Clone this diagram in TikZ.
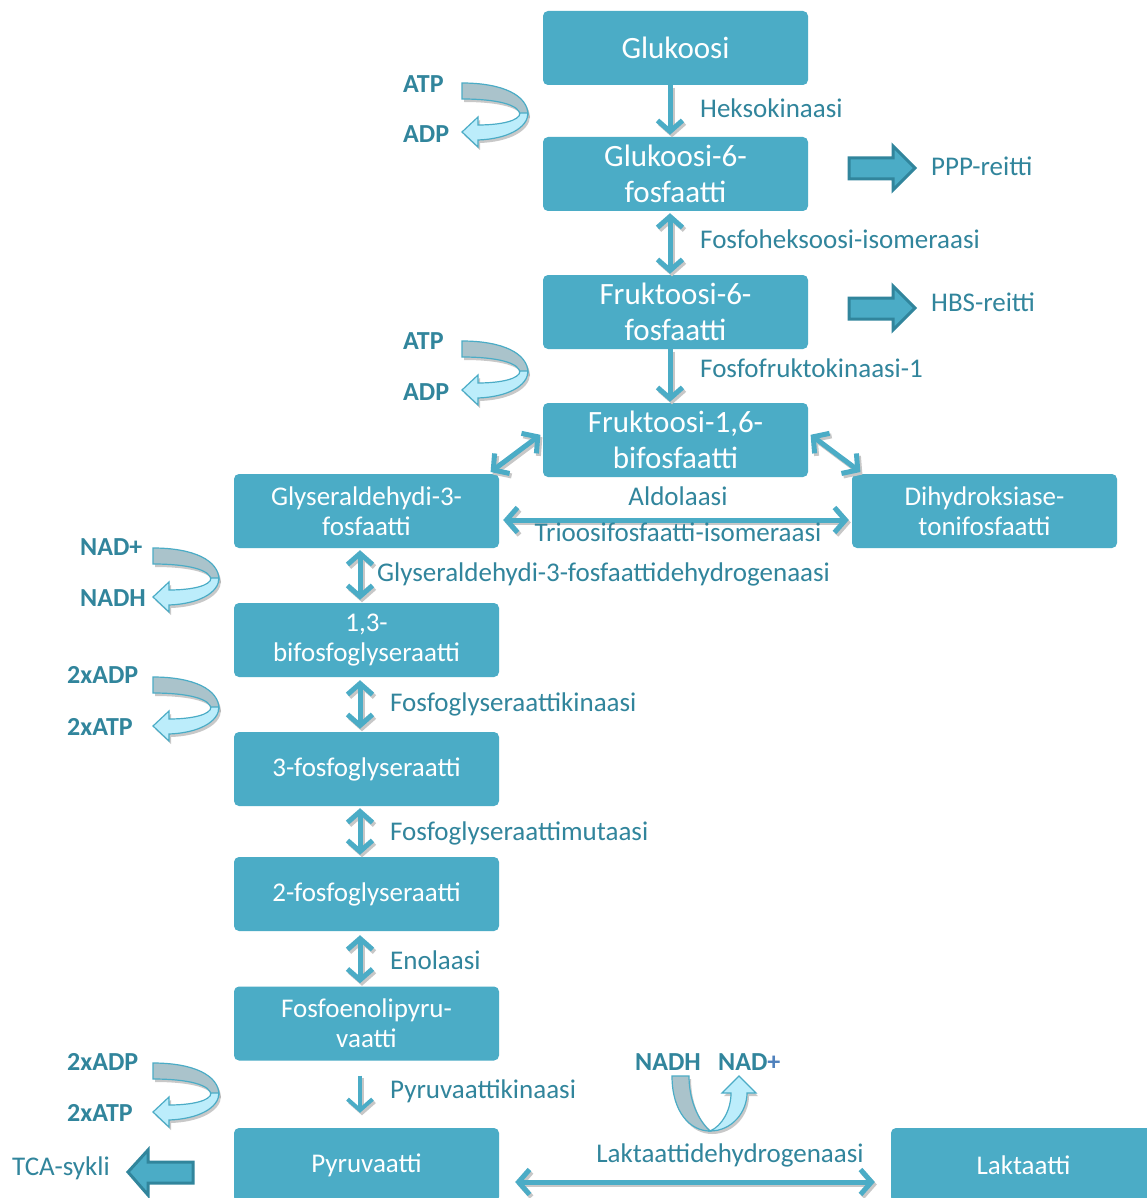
\documentclass[tikz,border=0pt]{standalone}
\usepackage{fontspec}
\setmainfont{Carlito}
\usetikzlibrary{arrows.meta}
\definecolor{boxc}{HTML}{4BACC6}
\definecolor{darkc}{HTML}{31859C}
\definecolor{plusc}{HTML}{4F81BD}
\definecolor{grayband}{HTML}{AAC3CB}
\definecolor{blueband}{HTML}{BCEDFB}
\tikzset{
  box/.style={fill=boxc, rounded corners=5pt, minimum width=265pt, minimum height=74pt,
    text=white, align=center, inner sep=0pt},
  bigbox/.style={box, font=\fontsize{31}{36}\selectfont},
  smallbox/.style={box, font=\fontsize{27}{30}\selectfont},
  lab/.style={text=darkc, font=\fontsize{27}{30}\selectfont, inner sep=0pt, text height=0.68em, text depth=0.14em, yshift=-6pt},
  blab/.style={text=darkc, font=\fontsize{26}{30}\selectfont\bfseries, inner sep=0pt, text height=0.68em, text depth=0.14em, anchor=west, yshift=-6pt},
  tipb/.tip={Straight Barb[length=11pt,width=25pt]},
  conn/.style={draw=boxc, line width=5pt},
  one/.style={conn, -tipb},
  two/.style={conn, tipb-tipb},
  blockarr/.style={fill=boxc, draw=darkc, line width=3pt, line join=miter},
  curv/.pic={
    \fill[black!30, opacity=0.7, shift={(2,3)}] (0,0) .. controls (40,0) and (66,12) .. (66,32) -- (58,32) .. controls (58,22) and (36,16) .. (0,16) -- cycle;
    \fill[black!30, opacity=0.7, shift={(2,3)}] (66,30) .. controls (66,45) and (45,56) .. (16,57) -- (16,64) -- (0,49) -- (16,34) -- (16,42) .. controls (38,42) and (58,38) .. (58,30) -- cycle;
    \filldraw[fill=grayband, draw=boxc, line width=1.2pt] (0,0) .. controls (40,0) and (66,12) .. (66,32) -- (58,32) .. controls (58,22) and (36,16) .. (0,16) -- cycle;
    \filldraw[fill=blueband, draw=boxc, line width=1.2pt, line join=miter] (66,30) .. controls (66,45) and (45,56) .. (16,57) -- (16,64) -- (0,49) -- (16,34) -- (16,42) .. controls (38,42) and (58,38) .. (58,30) -- cycle;
  }
}
\begin{document}
\begin{tikzpicture}[x=1pt,y=-1pt]
\useasboundingbox (0,0) rectangle (1146,1198);
\fill[white] (0,0) rectangle (1146,1198);

% boxes
\node[bigbox] (glc) at (675.5,48) {Glukoosi};
\node[bigbox] (g6p) at (675.5,174) {Glukoosi-6-\\fosfaatti};
\node[bigbox] (f6p) at (675.5,312) {Fruktoosi-6-\\fosfaatti};
\node[bigbox] (f16) at (675.5,440) {Fruktoosi-1,6-\\bifosfaatti};
\node[smallbox] (g3p) at (366.5,511) {Glyseraldehydi-3-\\fosfaatti};
\node[smallbox] (dhap) at (984.5,511) {Dihydroksiase-\\tonifosfaatti};
\node[smallbox] (bpg) at (366.5,640) {1,3-\\bifosfoglyseraatti};
\node[smallbox] (pg3) at (366.5,769) {3-fosfoglyseraatti};
\node[smallbox] (pg2) at (366.5,894) {2-fosfoglyseraatti};
\node[smallbox] (pep) at (366.5,1023.5) {Fosfoenolipyru-\\vaatti};
\node[smallbox] (pyr) at (366.5,1165) {Pyruvaatti};
\node[smallbox] (lakt) at (1023.5,1165) {Laktaatti};

% shadows of connectors
\begin{scope}[transform canvas={xshift=2pt,yshift=-2.5pt}]
\tikzset{conn/.style={draw=black!22, line width=5pt}}
\draw[one, shorten >=2pt] ([xshift=-5.5pt]glc.south) -- ([xshift=-5.5pt]g6p.north);
\draw[two, shorten >=1pt, shorten <=2pt] ([xshift=-5.5pt]g6p.south) -- ([xshift=-5.5pt]f6p.north);
\draw[one, shorten >=1pt] ([xshift=-5.5pt]f6p.south) -- ([xshift=-5.5pt]f16.north);
\draw[two, shorten >=3pt, shorten <=3pt] ([yshift=7pt]f16.west) -- ([xshift=-11pt]g3p.north east);
\draw[two, shorten >=3pt, shorten <=3pt] ([yshift=7pt]f16.east) -- ([xshift=11pt]dhap.north west);
\draw[two, shorten >=3pt, shorten <=4pt] ([yshift=-9pt]g3p.east) -- ([yshift=-9pt]dhap.west);
\draw[two, shorten >=3pt, shorten <=2pt] ([xshift=-6.5pt]g3p.south) -- ([xshift=-6.5pt]bpg.north);
\draw[two, shorten >=3pt, shorten <=3pt] ([xshift=-6.5pt]bpg.south) -- ([xshift=-6.5pt]pg3.north);
\draw[two, shorten >=2pt, shorten <=2pt] ([xshift=-6.5pt]pg3.south) -- ([xshift=-6.5pt]pg2.north);
\draw[two, shorten >=3pt, shorten <=4pt] ([xshift=-6.5pt]pg2.south) -- ([xshift=-6.5pt]pep.north);
\draw[one, line width=4pt, shorten >=15pt, shorten <=15pt] ([xshift=-6.5pt]pep.south) -- ([xshift=-6.5pt]pyr.north);
\draw[two, shorten >=16pt, shorten <=16pt] ([yshift=-17pt]pyr.east) -- ([yshift=-17pt]lakt.west);
\end{scope}

% connectors
\draw[one, shorten >=2pt] ([xshift=-5.5pt]glc.south) -- ([xshift=-5.5pt]g6p.north);
\draw[two, shorten >=1pt, shorten <=2pt] ([xshift=-5.5pt]g6p.south) -- ([xshift=-5.5pt]f6p.north);
\draw[one, shorten >=1pt] ([xshift=-5.5pt]f6p.south) -- ([xshift=-5.5pt]f16.north);
\draw[two, shorten >=3pt, shorten <=3pt] ([yshift=7pt]f16.west) -- ([xshift=-11pt]g3p.north east);
\draw[two, shorten >=3pt, shorten <=3pt] ([yshift=7pt]f16.east) -- ([xshift=11pt]dhap.north west);
\draw[two, shorten >=3pt, shorten <=4pt] ([yshift=-9pt]g3p.east) -- ([yshift=-9pt]dhap.west);
\draw[two, shorten >=3pt, shorten <=2pt] ([xshift=-6.5pt]g3p.south) -- ([xshift=-6.5pt]bpg.north);
\draw[two, shorten >=3pt, shorten <=3pt] ([xshift=-6.5pt]bpg.south) -- ([xshift=-6.5pt]pg3.north);
\draw[two, shorten >=2pt, shorten <=2pt] ([xshift=-6.5pt]pg3.south) -- ([xshift=-6.5pt]pg2.north);
\draw[two, shorten >=3pt, shorten <=4pt] ([xshift=-6.5pt]pg2.south) -- ([xshift=-6.5pt]pep.north);
\draw[one, line width=4pt, shorten >=15pt, shorten <=15pt] ([xshift=-6.5pt]pep.south) -- ([xshift=-6.5pt]pyr.north);
\draw[two, shorten >=16pt, shorten <=16pt] ([yshift=-17pt]pyr.east) -- ([yshift=-17pt]lakt.west);

% enzyme labels
\node[lab, anchor=west] (hk) at (700,109) {Heksokinaasi};
\node[lab, anchor=west] (pgi) at (700,240) {Fosfoheksoosi-isomeraasi};
\node[lab, anchor=west] (pfk) at (700,369) {Fosfofruktokinaasi-1};
\node[lab] (ald) at (678,497) {Aldolaasi};
\node[lab] (tpi) at (678,533) {Trioosifosfaatti-isomeraasi};
\node[lab, anchor=west] (gapdh) at (377,573) {Glyseraldehydi-3-fosfaattidehydrogenaasi};
\node[lab, anchor=west] (pgk) at (390,703) {Fosfoglyseraattikinaasi};
\node[lab, anchor=west] (pgm) at (390,832) {Fosfoglyseraattimutaasi};
\node[lab, anchor=west] (eno) at (390,961) {Enolaasi};
\node[lab, anchor=west] (pk) at (390,1090) {Pyruvaattikinaasi};
\node[lab] (ldh) at (730,1154) {Laktaattidehydrogenaasi};

% side pathways
\node[lab, anchor=west] (ppp) at (931,167) {PPP-reitti};
\node[lab, anchor=west] (hbs) at (931,303) {HBS-reitti};
\node[lab, anchor=west] (tca) at (12,1167) {TCA-sykli};
\draw[blockarr] (849,158) -- (893,158) -- (893,146) -- (915,168) -- (893,190) -- (893,179) -- (849,179) -- cycle;
\draw[blockarr] (849,298) -- (893,298) -- (893,286) -- (915,308) -- (893,330) -- (893,319) -- (849,319) -- cycle;
\draw[blockarr] (193,1162) -- (148,1162) -- (148,1150) -- (128,1172) -- (148,1195) -- (148,1183) -- (193,1183) -- cycle;

% cofactors
\node[blab] (atp1) at (403,84) {ATP};
\node[blab] (adp1) at (403,134) {ADP};
\node[blab] (atp2) at (403,341) {ATP};
\node[blab] (adp2) at (403,392) {ADP};
\node[blab] (nad1) at (80,547) {NAD+};
\node[blab] (nadh1) at (80,598) {NADH};
\node[blab] (adp3) at (67,675) {2xADP};
\node[blab] (atp3) at (67,727) {2xATP};
\node[blab] (adp4) at (67,1062) {2xADP};
\node[blab] (atp4) at (67,1113) {2xATP};
\node[blab] (nadh2) at (635,1062) {NADH};
\node[blab] (nad2) at (718,1062) {NAD\textcolor{plusc}{+}};

\pic at (462,83) {curv};
\pic at (462,341) {curv};
\pic at (153,548) {curv};
\pic at (153,677) {curv};
\pic at (153,1063) {curv};

% U-shaped arrow NADH -> NAD+
\fill[black!30, opacity=0.7, shift={(2,3)}] (672,1076) .. controls (672,1112) and (690,1131) .. (710,1131) .. controls (732,1131) and (747,1112) .. (747,1093) -- (756,1093) -- (739,1076) -- (722,1093) -- (731,1093) .. controls (731,1110) and (722,1125) .. (710,1128) .. controls (698,1120) and (689,1100) .. (689,1076) -- cycle;
\filldraw[fill=grayband, draw=boxc, line width=1.2pt] (672,1076) .. controls (672,1112) and (690,1131) .. (710,1131) .. controls (698,1120) and (689,1100) .. (689,1076) -- cycle;
\filldraw[fill=blueband, draw=boxc, line width=1.2pt, line join=miter] (710,1131) .. controls (732,1131) and (747,1112) .. (747,1093) -- (756,1093) -- (739,1076) -- (722,1093) -- (731,1093) .. controls (731,1110) and (722,1126) .. (710,1131) -- cycle;
\end{tikzpicture}
\end{document}
